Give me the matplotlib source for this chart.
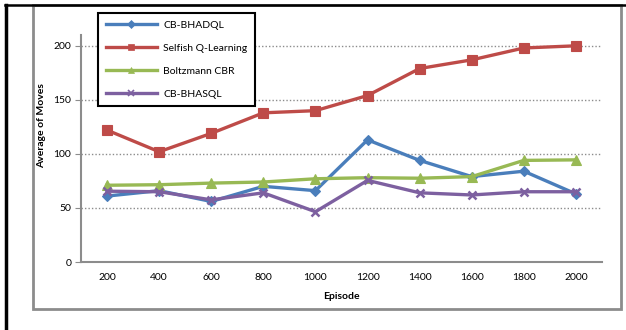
import matplotlib
matplotlib.use("Agg")
import matplotlib.pyplot as plt
from matplotlib.lines import Line2D
from matplotlib.patches import Rectangle

plt.rcParams['font.family'] = ['Lato', 'DejaVu Sans']

episodes = ["200", "400", "600", "800", "1000", "1200", "1400", "1600", "1800", "2000"]
cb_bhadql = [61, 66, 56, 70, 66, 113, 94, 79, 84, 63]
selfish_q = [122, 102, 119, 138, 140, 154, 179, 187, 198, 200]
boltzmann_cbr = [71, 71.5, 73, 74, 77, 78, 77.5, 79, 94, 94.5]
cb_bhasql = [65.5, 65, 57.5, 64, 46.5, 75.5, 64, 62, 65, 65]

series = [
    ("CB-BHADQL", cb_bhadql, "#4a7ebb", "D", 5.5),
    ("Selfish Q-Learning", selfish_q, "#be4b48", "s", 6.5),
    ("Boltzmann CBR", boltzmann_cbr, "#98b954", "^", 6.5),
    ("CB-BHASQL", cb_bhasql, "#7d60a0", "x", 6.0),
]

W, H = 626, 330
fig = plt.figure(figsize=(W / 100, H / 100), dpi=100)

# outer frames
fig.add_artist(Rectangle((33 / W, 1 - 309 / H), (621 - 33) / W, (309 - 5) / H,
                         transform=fig.transFigure, fill=False,
                         edgecolor="#8c8c8c", linewidth=2.0))
fig.add_artist(Line2D([6 / W, 6 / W], [0, 1 - 5 / H], transform=fig.transFigure,
                      color="black", linewidth=2.5))
fig.add_artist(Line2D([5 / W, 625 / W], [1 - 5 / H, 1 - 5 / H], transform=fig.transFigure,
                      color="black", linewidth=1.8))

ax = fig.add_axes([81 / W, 1 - 262 / H, (602 - 81) / W, (262 - 35) / H])
x = list(range(len(episodes)))
for name, vals, col, mk, ms in series:
    ax.plot(x, vals, color=col, linewidth=2.4, marker=mk, markersize=ms,
            markeredgewidth=1.8 if mk == "x" else 0.8, markeredgecolor=col,
            markerfacecolor=col, label=name)

ax.set_xlim(-0.5, len(episodes) - 0.5)
ax.set_ylim(0, 210)
ax.set_xticks(x)
ax.set_xticklabels(episodes)
ax.set_yticks([0, 50, 100, 150, 200])
for v in [50, 100, 150, 200]:
    ax.axhline(v, color="#8c8c8c", linestyle=(0, (1, 1.5)), linewidth=1.0, zorder=0)

for s in ["top", "right"]:
    ax.spines[s].set_visible(False)
ax.spines["left"].set_color("#8c8c8c")
ax.spines["bottom"].set_color("#8c8c8c")
ax.spines["left"].set_linewidth(1.5)
ax.spines["bottom"].set_linewidth(1.5)
ax.tick_params(axis="y", length=4, color="#8c8c8c", labelsize=7.5, pad=3)
ax.tick_params(axis="x", length=0, labelsize=7.5, pad=8)

ax.set_xlabel("Episode", fontsize=7.5, fontweight="bold", labelpad=7)
ax.set_ylabel("Average of Moves", fontsize=7.5, fontweight="bold")
ax.yaxis.set_label_coords(-0.067, 0.60)

handles = [Line2D([], [], color=col, linewidth=2.4, marker=mk,
                  markersize=ms * 0.7, markeredgewidth=1.2 if mk == "x" else 0.5,
                  markerfacecolor=col, markeredgecolor=col)
           for _, _, col, mk, ms in series]
leg = fig.legend(handles, [s[0] for s in series], loc="upper left",
                 bbox_to_anchor=(98 / W, 1 - 13 / H), fontsize=7.5,
                 handlelength=4.9, labelspacing=1.3, borderpad=0.75,
                 handletextpad=0.6, borderaxespad=0, fancybox=False,
                 framealpha=1, edgecolor="black")
leg.get_frame().set_linewidth(1.5)

fig.savefig("out.png", dpi=100)
